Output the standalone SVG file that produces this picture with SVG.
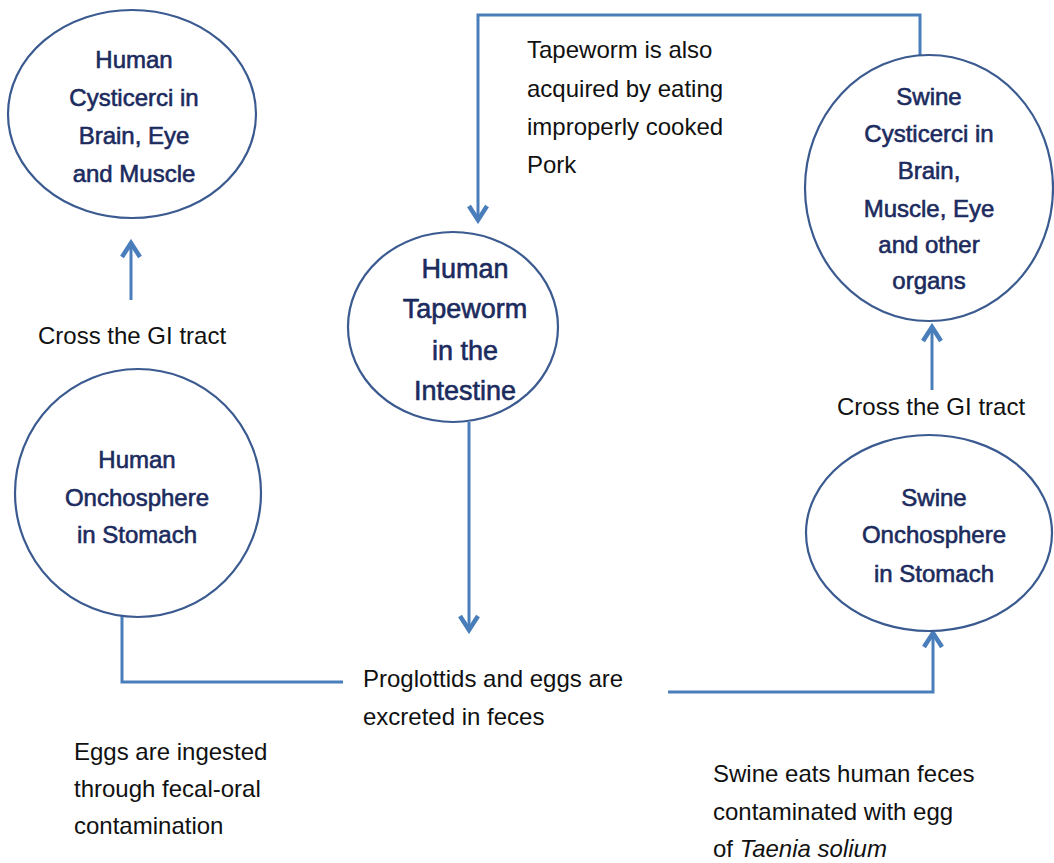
<svg xmlns="http://www.w3.org/2000/svg" width="1054" height="863" viewBox="0 0 1054 863">
<style>
.node ellipse{fill:#fff;stroke:#3a5a90;stroke-width:2.2}
.nt{font-family:"Liberation Sans",Arial,sans-serif;font-size:24px;fill:#1c2b5e;stroke:#1c2b5e;stroke-width:0.6;text-anchor:middle}
.big{font-size:27px}
.lbl{font-family:"Liberation Sans",Arial,sans-serif;font-size:24px;fill:#111}
.conn{fill:none;stroke:#4a7ebb;stroke-width:3}
</style>
<defs>
<marker id="ah" markerUnits="userSpaceOnUse" markerWidth="24" markerHeight="24" viewBox="0 0 24 24" refX="21" refY="12" orient="auto">
<path d="M6,3 L20,12 L6,21" fill="none" stroke="#4a7ebb" stroke-width="4.5" stroke-linejoin="miter"/>
</marker>
</defs>
<rect width="1054" height="863" fill="#fff"/>

<g id="connectors">
<path class="conn" d="M920,55 V15 H478 V221" marker-end="url(#ah)"/>
<path class="conn" d="M131,300 V242" marker-end="url(#ah)"/>
<path class="conn" d="M469,422 V631" marker-end="url(#ah)"/>
<path class="conn" d="M932,390 V326" marker-end="url(#ah)"/>
<path class="conn" d="M122,616 V682 H343"/>
<path class="conn" d="M668,692 H933 V632" marker-end="url(#ah)"/>
</g>

<g id="human-cysticerci" class="node">
<ellipse cx="132" cy="114" rx="124" ry="104"/>
<text class="nt" x="134" y="68">Human</text>
<text class="nt" x="134" y="106">Cysticerci in</text>
<text class="nt" x="134" y="144">Brain, Eye</text>
<text class="nt" x="134" y="182">and Muscle</text>
</g>

<g id="human-onchosphere" class="node">
<ellipse cx="138" cy="493" rx="123" ry="124"/>
<text class="nt" x="137" y="468">Human</text>
<text class="nt" x="137" y="506">Onchosphere</text>
<text class="nt" x="137" y="543">in Stomach</text>
</g>

<g id="human-tapeworm" class="node">
<ellipse cx="453" cy="327" rx="105" ry="95"/>
<text class="nt big" x="465" y="278">Human</text>
<text class="nt big" x="465" y="318">Tapeworm</text>
<text class="nt big" x="465" y="360">in the</text>
<text class="nt big" x="465" y="400">Intestine</text>
</g>

<g id="swine-cysticerci" class="node">
<ellipse cx="929" cy="188" rx="124" ry="133"/>
<text class="nt" x="929" y="105">Swine</text>
<text class="nt" x="929" y="142">Cysticerci in</text>
<text class="nt" x="929" y="179">Brain,</text>
<text class="nt" x="929" y="217">Muscle, Eye</text>
<text class="nt" x="929" y="253">and other</text>
<text class="nt" x="929" y="289">organs</text>
</g>

<g id="swine-onchosphere" class="node">
<ellipse cx="929" cy="533" rx="123" ry="98"/>
<text class="nt" x="934" y="506">Swine</text>
<text class="nt" x="934" y="543">Onchosphere</text>
<text class="nt" x="934" y="582">in Stomach</text>
</g>

<g id="labels">
<text class="lbl" x="38" y="344">Cross the GI tract</text>
<text class="lbl" x="837" y="415">Cross the GI tract</text>
<text class="lbl" x="527" y="58">Tapeworm is also</text>
<text class="lbl" x="527" y="97">acquired by eating</text>
<text class="lbl" x="527" y="135">improperly cooked</text>
<text class="lbl" x="527" y="173">Pork</text>
<text class="lbl" x="363" y="687">Proglottids and eggs are</text>
<text class="lbl" x="363" y="725">excreted in feces</text>
<text class="lbl" x="74" y="760">Eggs are ingested</text>
<text class="lbl" x="74" y="797">through fecal-oral</text>
<text class="lbl" x="74" y="834">contamination</text>
<text class="lbl" x="713" y="782">Swine eats human feces</text>
<text class="lbl" x="713" y="820">contaminated with egg</text>
<text class="lbl" x="713" y="857">of <tspan font-style="italic">Taenia solium</tspan></text>
</g>
</svg>
